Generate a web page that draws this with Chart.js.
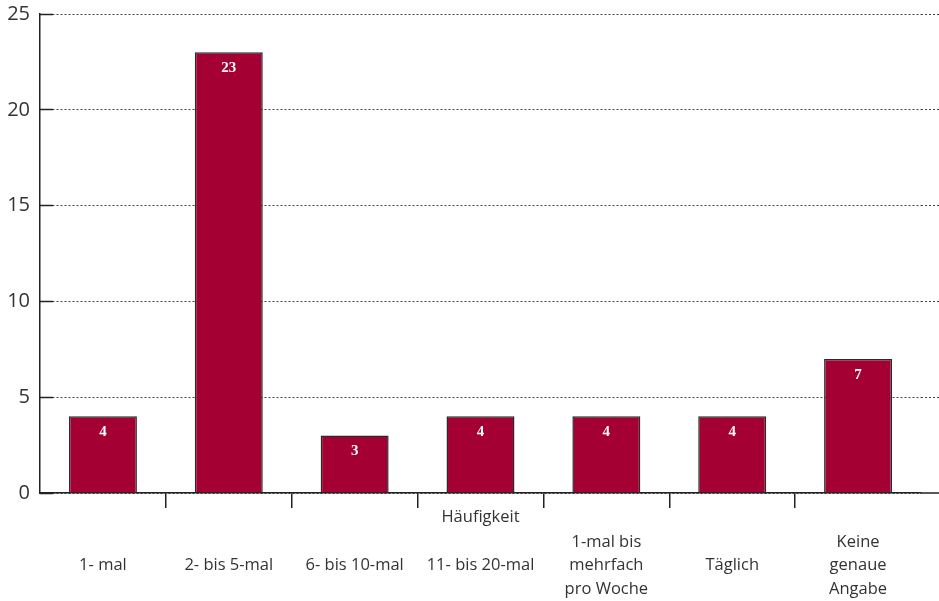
<!DOCTYPE html>
<html>
<head>
<meta charset="utf-8">
<script src="https://cdn.jsdelivr.net/npm/chart.js@4"></script>
<style>
  html, body { margin: 0; padding: 0; background: #fff; }
  #wrap { width: 939px; height: 601px; }
</style>
</head>
<body>
<div id="wrap"><canvas id="haeufigkeitChart"></canvas></div>
<script>
// categories (blank lines keep the one-line labels centred with the three-line ones)
const categories = [
  ['', '1- mal', ''],
  ['', '2- bis 5-mal', ''],
  ['', '6- bis 10-mal', ''],
  ['', '11- bis 20-mal', ''],
  ['1-mal bis', 'mehrfach', 'pro Woche'],
  ['', 'Täglich', ''],
  ['Keine', 'genaue', 'Angabe']
];
const counts = [4, 23, 3, 4, 4, 4, 7];
const yTicks = [0, 5, 10, 15, 20, 25];
const axisTitle = 'Häufigkeit';

const textColor = '#333';
const barColor = '#a50034';
const labelFont = '"Open Sans", sans-serif';

// same pixel snapping chart.js uses for 1px lines
const alignPx = (p) => Math.round(p - 0.5) + 0.5;

// dotted grid lines run on past the plot to the canvas edge, short ticks inside the y axis
const gridExtras = {
  id: 'gridExtras',
  beforeDatasetsDraw(chart) {
    const ctx = chart.ctx;
    const area = chart.chartArea;
    const y = chart.scales.y;
    ctx.save();
    ctx.strokeStyle = '#444';
    ctx.lineWidth = 1;
    ctx.setLineDash([2, 2]);
    y.ticks.forEach((t) => {
      if (t.value === 0) return;
      const py = alignPx(y.getPixelForValue(t.value));
      ctx.beginPath();
      ctx.moveTo(area.right, py);
      ctx.lineTo(chart.width, py);
      ctx.stroke();
    });
    ctx.setLineDash([]);
    ctx.strokeStyle = '#222';
    ctx.lineWidth = 1.5;
    y.ticks.forEach((t) => {
      const py = alignPx(y.getPixelForValue(t.value));
      ctx.beginPath();
      ctx.moveTo(area.left, py);
      ctx.lineTo(area.left + 13, py);
      ctx.stroke();
    });
    ctx.restore();
  },
  afterDraw(chart) {
    const ctx = chart.ctx;
    const area = chart.chartArea;
    ctx.save();
    // x axis line continues to the right edge
    ctx.strokeStyle = '#222';
    ctx.lineWidth = 1.5;
    ctx.beginPath();
    ctx.moveTo(area.right, area.bottom);
    ctx.lineTo(chart.width, area.bottom);
    ctx.stroke();
    // axis title sits between the tick marks and the labels
    ctx.fillStyle = textColor;
    ctx.font = '16.5px ' + labelFont;
    ctx.textAlign = 'center';
    ctx.textBaseline = 'middle';
    ctx.fillText(axisTitle, (area.left + area.right) / 2, area.bottom + 24);
    ctx.restore();
  }
};

// white values near the top of each bar
const barValues = {
  id: 'barValues',
  afterDatasetsDraw(chart) {
    const ctx = chart.ctx;
    const meta = chart.getDatasetMeta(0);
    ctx.save();
    ctx.fillStyle = '#fff';
    ctx.font = 'bold 15px "Liberation Serif", serif';
    ctx.textAlign = 'center';
    ctx.textBaseline = 'middle';
    meta.data.forEach((bar, i) => {
      ctx.fillText(String(counts[i]), bar.x, bar.y + 16);
    });
    ctx.restore();
  }
};

const data = {
  labels: categories,
  datasets: [
    {
      data: counts,
      backgroundColor: barColor,
      borderColor: '#2a2a2a',
      borderWidth: 1.5,
      borderSkipped: 'bottom',
      categoryPercentage: 1,
      barPercentage: 0.54
    }
  ]
};

const config = {
  type: 'bar',
  data: data,
  options: {
    responsive: true,
    maintainAspectRatio: false,
    animation: false,
    layout: { padding: { top: 14, right: 18, left: 0, bottom: 0 } },
    plugins: {
      legend: { display: false },
      tooltip: { enabled: false }
    },
    scales: {
      x: {
        offset: true,
        grid: {
          offset: true,
          drawOnChartArea: false,
          tickLength: 15,
          lineWidth: 1.5,
          // only the lines between categories get a tick mark
          color: (c) => (c.type !== 'tick' || c.index === 0) ? 'rgba(0,0,0,0)' : '#222'
        },
        border: { color: '#222', width: 1.5 },
        ticks: {
          color: textColor,
          padding: 22,
          maxRotation: 0,
          autoSkip: false,
          font: { family: labelFont, size: 16.5, lineHeight: 1.43 }
        },
        afterFit: (scale) => { scale.height = 108; }
      },
      y: {
        min: yTicks[0],
        max: yTicks[yTicks.length - 1],
        afterBuildTicks: (scale) => { scale.ticks = yTicks.map((v) => ({ value: v })); },
        grid: {
          drawTicks: false,
          color: '#444',
          lineWidth: 1
        },
        border: { color: '#222', width: 1.5, dash: [2, 2] },
        ticks: {
          color: textColor,
          padding: 10,
          font: { family: labelFont, size: 20 }
        },
        afterFit: (scale) => {
          scale.width = 40;
          scale.paddingTop = 0;
          scale.paddingBottom = 0;
        }
      }
    }
  },
  plugins: [gridExtras, barValues]
};

const haeufigkeitChart = new Chart(
  document.getElementById('haeufigkeitChart'),
  config
);
</script>
</body>
</html>
